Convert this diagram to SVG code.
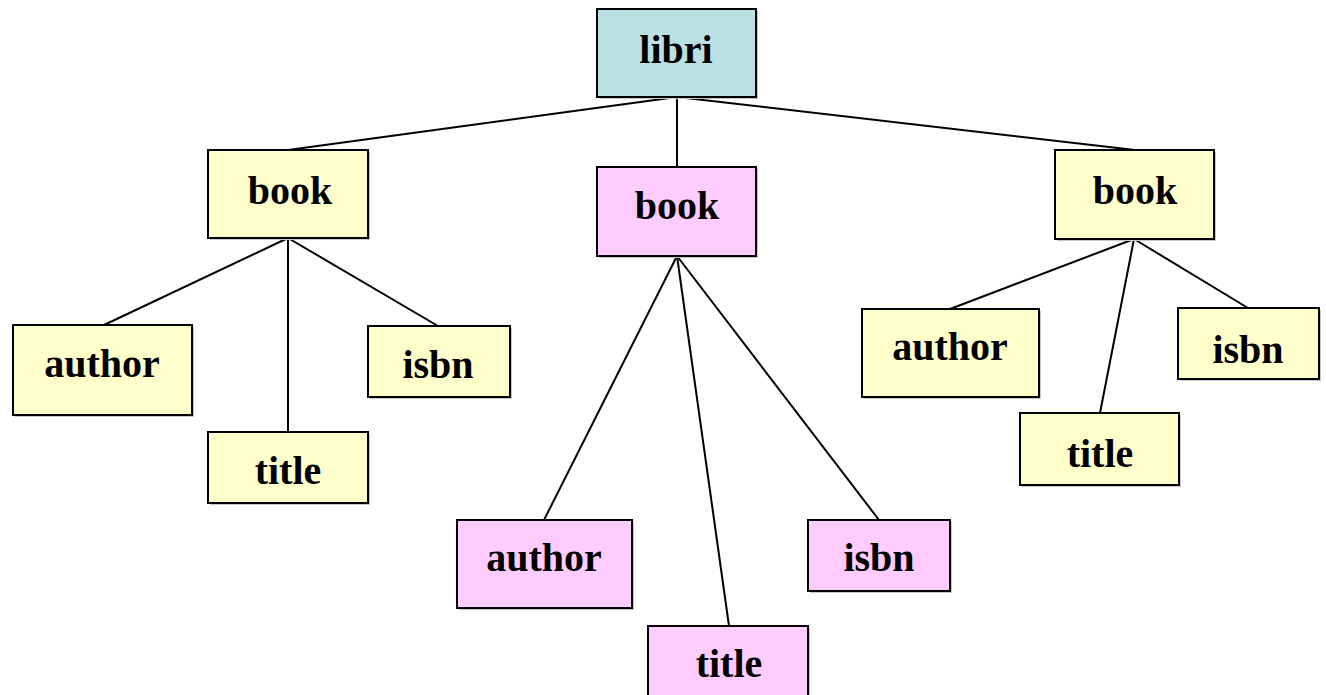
<svg xmlns="http://www.w3.org/2000/svg" width="1326" height="695" viewBox="0 0 1326 695">
<style>
.box{stroke:#000;stroke-width:2}
.sh{fill:#c8c8c8}
.y{fill:#FFFFCC}
.p{fill:#FFCCFF}
.b{fill:#BBE0E3}
text{font-family:"Liberation Serif","Times New Roman",serif;font-weight:bold;font-size:40px;fill:#000;text-anchor:middle}
.c line{stroke:#000;stroke-width:2}
</style>
<rect width="1326" height="695" fill="#fff"/>
<g class="c" id="connectors">
<line x1="677" y1="97" x2="288" y2="150"/>
<line x1="677" y1="97" x2="677" y2="167"/>
<line x1="677" y1="97" x2="1135" y2="150"/>
<line x1="288" y1="238" x2="104" y2="325"/>
<line x1="288" y1="238" x2="288" y2="432"/>
<line x1="288" y1="238" x2="438" y2="326"/>
<line x1="677" y1="256" x2="544" y2="520"/>
<line x1="677" y1="256" x2="729" y2="626"/>
<line x1="677" y1="256" x2="879" y2="520"/>
<line x1="1134" y1="239" x2="950" y2="309"/>
<line x1="1134" y1="239" x2="1100" y2="413"/>
<line x1="1134" y1="239" x2="1248" y2="308"/>
</g>
<g id="libri"><rect class="sh" x="599" y="11" width="159" height="88"/><rect class="box b" x="597" y="9" width="159" height="88"/><text x="676" y="63">libri</text></g>
<g id="book1"><rect class="sh" x="210" y="152" width="160" height="88"/><rect class="box y" x="208" y="150" width="160" height="88"/><text x="290" y="204">book</text></g>
<g id="book2"><rect class="sh" x="599" y="169" width="159" height="89"/><rect class="box p" x="597" y="167" width="159" height="89"/><text x="677" y="219">book</text></g>
<g id="book3"><rect class="sh" x="1057" y="152" width="159" height="89"/><rect class="box y" x="1055" y="150" width="159" height="89"/><text x="1135" y="204">book</text></g>
<g id="author1"><rect class="sh" x="15" y="327" width="179" height="90"/><rect class="box y" x="13" y="325" width="179" height="90"/><text x="102" y="377">author</text></g>
<g id="title1"><rect class="sh" x="210" y="434" width="160" height="71"/><rect class="box y" x="208" y="432" width="160" height="71"/><text x="288" y="484">title</text></g>
<g id="isbn1"><rect class="sh" x="370" y="328" width="142" height="71"/><rect class="box y" x="368" y="326" width="142" height="71"/><text x="438" y="378">isbn</text></g>
<g id="author2"><rect class="sh" x="459" y="522" width="175" height="88"/><rect class="box p" x="457" y="520" width="175" height="88"/><text x="544" y="571">author</text></g>
<g id="title2"><rect class="sh" x="650" y="628" width="160" height="89"/><rect class="box p" x="648" y="626" width="160" height="89"/><text x="729" y="677">title</text></g>
<g id="isbn2"><rect class="sh" x="810" y="522" width="142" height="71"/><rect class="box p" x="808" y="520" width="142" height="71"/><text x="879" y="571">isbn</text></g>
<g id="author3"><rect class="sh" x="864" y="311" width="177" height="88"/><rect class="box y" x="862" y="309" width="177" height="88"/><text x="950" y="360">author</text></g>
<g id="title3"><rect class="sh" x="1022" y="415" width="159" height="72"/><rect class="box y" x="1020" y="413" width="159" height="72"/><text x="1100" y="467">title</text></g>
<g id="isbn3"><rect class="sh" x="1180" y="310" width="141" height="71"/><rect class="box y" x="1178" y="308" width="141" height="71"/><text x="1248" y="363">isbn</text></g>
</svg>
